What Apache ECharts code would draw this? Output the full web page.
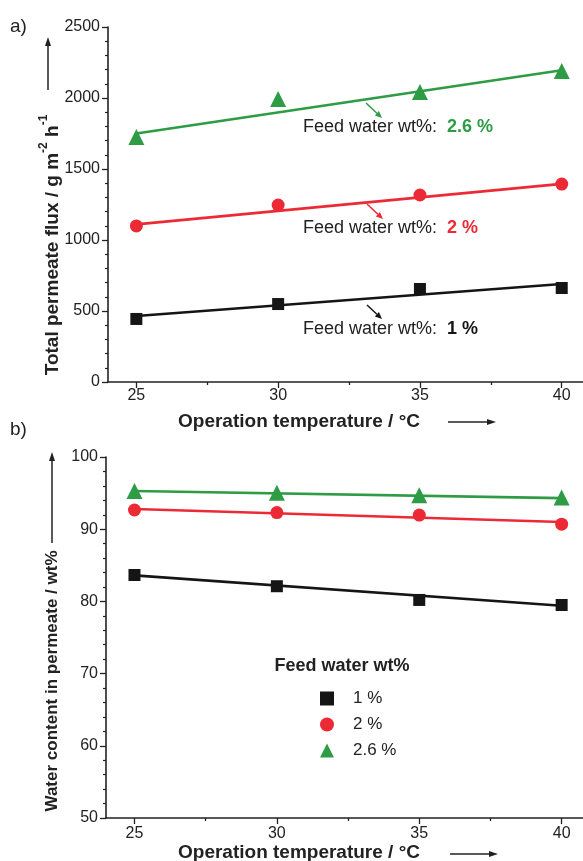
<!DOCTYPE html>
<html><head><meta charset="utf-8">
<script src="https://cdn.jsdelivr.net/npm/echarts@6/dist/echarts.min.js"></script>
<style>html,body{margin:0;padding:0;background:#fff}#c{width:583px;height:861px}</style>
</head><body><div id="c"></div>
<script>
const temps = [25, 30, 35, 40];
const fitTemps = [25, 40];
const xTickLabels = [25, 30, 35, 40];
const xMinorTicks = [27.5, 32.5, 37.5];
const legendNames = ['1 %', '2 %', '2.6 %'];
// panel a: total permeate flux (g m-2 h-1)
const fluxFeed1 = [444, 549, 655, 662];
const fluxFeed2 = [1099, 1246, 1317, 1394];
const fluxFeed26 = [1725, 1993, 2042, 2190];
const fluxFit1 = [465, 690];
const fluxFit2 = [1110, 1395];
const fluxFit26 = [1750, 2195];
// panel b: water content in permeate (wt%)
const waterFeed1 = [83.66, 82.1, 80.2, 79.5];
const waterFeed2 = [92.66, 92.3, 91.96, 90.7];
const waterFeed26 = [95.3, 95.06, 94.7, 94.4];
const waterFit1 = [83.6, 79.4];
const waterFit2 = [92.8, 91.0];
const waterFit26 = [95.3, 94.3];

const C1 = '#151515', C2 = '#ec2a36', C3 = '#2e9b45';
const FONT = "'Liberation Sans', Arial, sans-serif";
const TXT = '#222';

function pairs(xs, ys) { return xs.map((x, i) => [x, ys[i]]); }

const chart = echarts.init(document.getElementById('c'), null, {renderer: 'canvas'});

function xAxes(gi, margin) {
  return [{
    gridIndex: gi, type: 'value', min: 24, max: 40.75, position: 'bottom',
    axisLine: {show: true, lineStyle: {color: TXT, width: 1.6}},
    axisTick: {show: true, inside: false, customValues: xTickLabels, length: 6, lineStyle: {color: TXT, width: 1.3}},
    axisLabel: {show: true, customValues: xTickLabels, margin: margin, fontSize: 16, color: TXT, fontFamily: FONT},
    splitLine: {show: false}
  }, {
    gridIndex: gi, type: 'value', min: 24, max: 40.75, position: 'bottom',
    axisLine: {show: false},
    axisTick: {show: true, inside: false, customValues: xMinorTicks, length: 3, lineStyle: {color: TXT, width: 1.3}},
    axisLabel: {show: false},
    splitLine: {show: false}
  }];
}
function yAxis(gi, min, max, interval) {
  return {
    gridIndex: gi, type: 'value', min: min, max: max, interval: interval,
    axisLine: {show: true, lineStyle: {color: TXT, width: 1.6}},
    axisTick: {show: true, inside: false, length: 6, lineStyle: {color: TXT, width: 1.3}},
    minorTick: {show: true, splitNumber: 5, length: 3, lineStyle: {color: TXT, width: 1.2}},
    axisLabel: {margin: 8, fontSize: 16, color: TXT, fontFamily: FONT, formatter: v => String(v)},
    splitLine: {show: false}
  };
}
function fitLine(xi, yi, ys, color) {
  return {type: 'line', xAxisIndex: xi, yAxisIndex: yi, data: pairs(fitTemps, ys), symbol: 'none',
    lineStyle: {color: color, width: 2.6}, silent: true, z: 2};
}
function pts(name, xi, yi, ys, color, symbol, size) {
  return {type: 'scatter', name: name, xAxisIndex: xi, yAxisIndex: yi, data: pairs(temps, ys),
    symbol: symbol, symbolSize: size, itemStyle: {color: color, opacity: 1}, z: 3};
}
function arrowH(x1, x2, y, color) {
  return [
    {type: 'line', shape: {x1: x1, y1: y, x2: x2 - 6, y2: y}, style: {stroke: color, lineWidth: 1.5}},
    {type: 'polygon', shape: {points: [[x2, y], [x2 - 9, y - 3], [x2 - 9, y + 3]]}, style: {fill: color}}
  ];
}
function arrowV(x, y1, y2, color) {
  return [
    {type: 'line', shape: {x1: x, y1: y1, x2: x, y2: y2 + 6}, style: {stroke: color, lineWidth: 1.5}},
    {type: 'polygon', shape: {points: [[x, y2], [x - 3, y2 + 9], [x + 3, y2 + 9]]}, style: {fill: color}}
  ];
}
function arrowD(x1, y1, x2, y2, color) {
  const a = Math.atan2(y2 - y1, x2 - x1), L = 7, W = 3;
  const bx = x2 - L * Math.cos(a), by = y2 - L * Math.sin(a);
  return [
    {type: 'line', shape: {x1: x1, y1: y1, x2: bx, y2: by}, style: {stroke: color, lineWidth: 1.5}},
    {type: 'polygon', shape: {points: [[x2, y2], [bx + W * Math.sin(a), by - W * Math.cos(a)], [bx - W * Math.sin(a), by + W * Math.cos(a)]]}, style: {fill: color}}
  ];
}
function annot(x, y, val, color) {
  return {type: 'text', x: x, y: y, style: {
    text: '{a|Feed water wt%:  }{b|' + val + '}', textVerticalAlign: 'middle',
    rich: {a: {fontSize: 18, fontFamily: FONT, fill: TXT}, b: {fontSize: 18, fontWeight: 'bold', fontFamily: FONT, fill: color}}
  }};
}
const supRich = {
  n: {fontSize: 19, fontWeight: 'bold', fontFamily: FONT, fill: TXT, lineHeight: 24, verticalAlign: 'bottom'},
  s: {fontSize: 12, fontWeight: 'bold', fontFamily: FONT, fill: TXT, lineHeight: 14, verticalAlign: 'top'}
};

const graphics = [
  {type: 'text', x: 10, y: 27, style: {text: 'a)', fontSize: 19, fontFamily: FONT, fill: TXT, textVerticalAlign: 'middle'}},
  {type: 'text', x: 10, y: 430, style: {text: 'b)', fontSize: 19, fontFamily: FONT, fill: TXT, textVerticalAlign: 'middle'}},
  {type: 'text', x: 50, y: 245, rotation: Math.PI / 2, style: {
    text: '{n|Total permeate flux / g m}{s|-2}{n| h}{s|-1}', textAlign: 'center', textVerticalAlign: 'middle', rich: supRich}},
  {type: 'text', x: 52, y: 681, rotation: Math.PI / 2, style: {
    text: 'Water content in permeate / wt%', fontSize: 17, fontWeight: 'bold', fontFamily: FONT, fill: TXT, textAlign: 'center', textVerticalAlign: 'middle'}},
  {type: 'text', x: 299, y: 422, style: {text: 'Operation temperature / °C', fontSize: 19, fontWeight: 'bold', fontFamily: FONT, fill: TXT, textAlign: 'center', textVerticalAlign: 'middle'}},
  {type: 'text', x: 299, y: 853, style: {text: 'Operation temperature / °C', fontSize: 19, fontWeight: 'bold', fontFamily: FONT, fill: TXT, textAlign: 'center', textVerticalAlign: 'middle'}},
  {type: 'text', x: 342, y: 666, style: {text: 'Feed water wt%', fontSize: 18, fontWeight: 'bold', fontFamily: FONT, fill: TXT, textAlign: 'center', textVerticalAlign: 'middle'}},
  annot(303, 127, '2.6 %', C3),
  annot(303, 228, '2 %', C2),
  annot(303, 329, '1 %', C1)
].concat(arrowH(448, 496, 422, TXT), arrowH(450, 498, 854, TXT),
  arrowV(48, 90, 37, TXT), arrowV(52, 543, 452, TXT),
  arrowD(366, 103, 382, 118, C3), arrowD(367, 204, 383, 219, C2), arrowD(367, 305, 382, 319, C1));

chart.setOption({
  backgroundColor: '#fff',
  animation: false,
  textStyle: {fontFamily: FONT},
  grid: [
    {left: 108, top: 27, width: 475, height: 355},
    {left: 106, top: 457, width: 477, height: 361}
  ],
  xAxis: xAxes(0, 6).concat(xAxes(1, 8)),
  yAxis: [yAxis(0, 0, 2500, 500), yAxis(1, 50, 100, 10)],
  legend: {
    data: legendNames, orient: 'vertical', left: 315, top: 685, itemGap: 9,
    itemWidth: 14, itemHeight: 14, selectedMode: false,
    textStyle: {fontSize: 17, color: TXT, fontFamily: FONT, padding: [0, 0, 0, 14]}
  },
  graphic: graphics,
  series: [
    fitLine(0, 0, fluxFit1, C1), fitLine(0, 0, fluxFit2, C2), fitLine(0, 0, fluxFit26, C3),
    pts('a1', 0, 0, fluxFeed1, C1, 'rect', 12),
    pts('a2', 0, 0, fluxFeed2, C2, 'circle', 13),
    pts('a26', 0, 0, fluxFeed26, C3, 'triangle', 16),
    fitLine(2, 1, waterFit1, C1), fitLine(2, 1, waterFit2, C2), fitLine(2, 1, waterFit26, C3),
    pts('1 %', 2, 1, waterFeed1, C1, 'rect', 12),
    pts('2 %', 2, 1, waterFeed2, C2, 'circle', 13),
    pts('2.6 %', 2, 1, waterFeed26, C3, 'triangle', 16)
  ]
});
</script></body></html>
